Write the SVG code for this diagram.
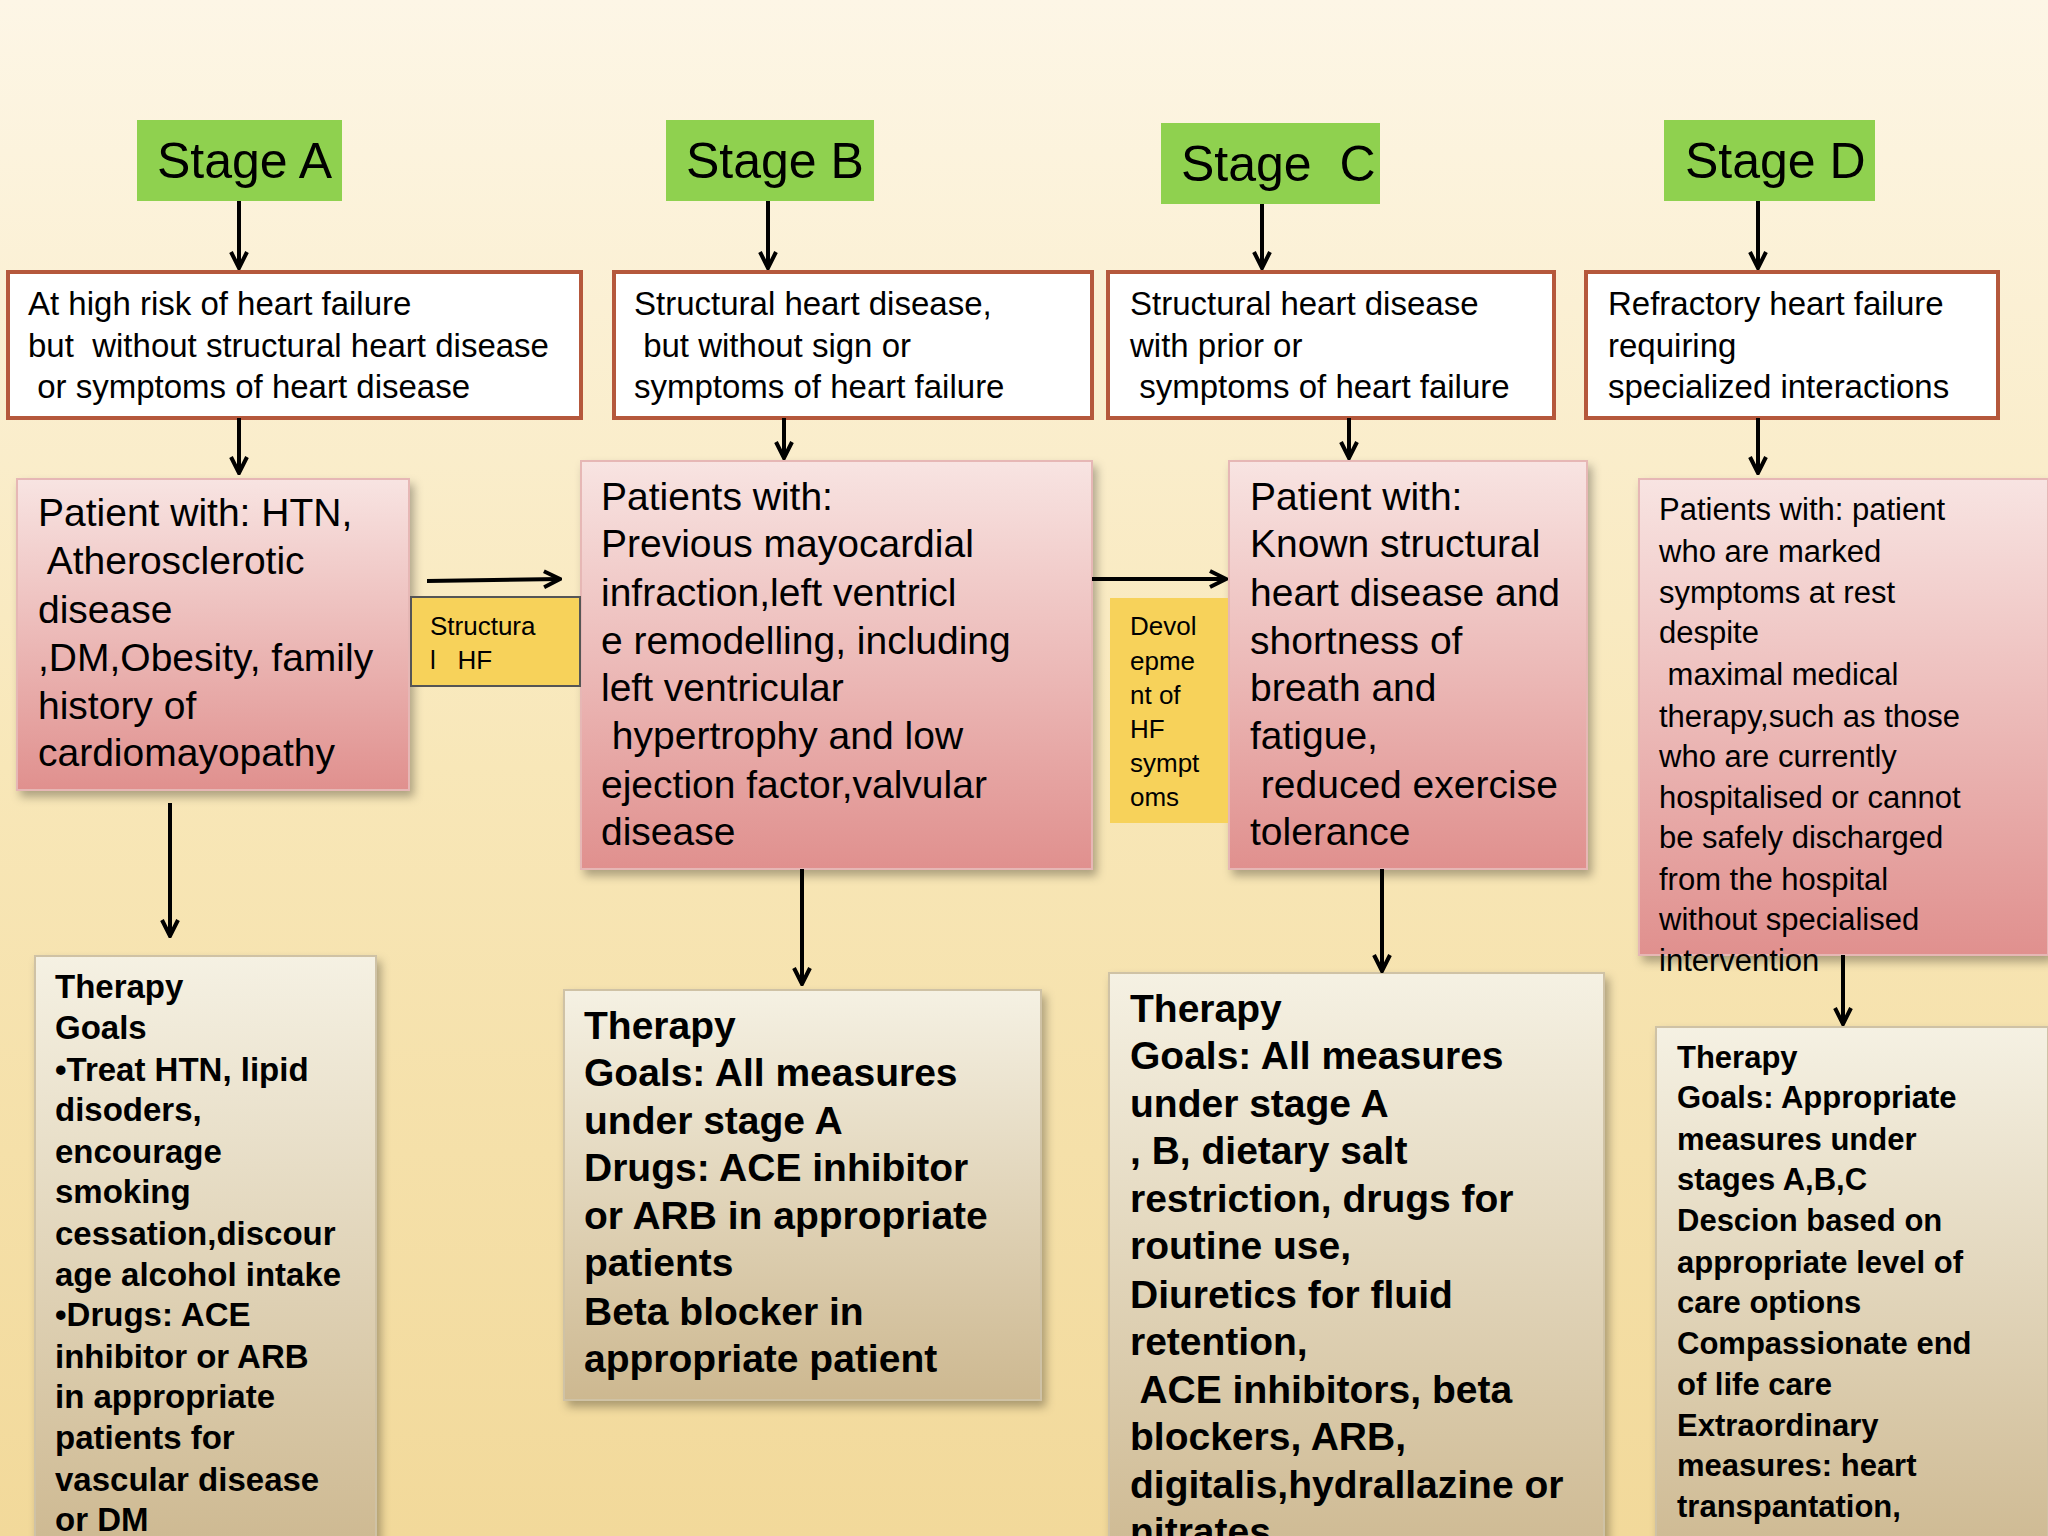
<svg xmlns="http://www.w3.org/2000/svg" width="2048" height="1536" viewBox="0 0 2048 1536">
<defs>
<linearGradient id="bg" x1="0" y1="0" x2="0" y2="1"><stop offset="0" stop-color="#fdf6e6"/><stop offset="0.5" stop-color="#f8e7b8"/><stop offset="1" stop-color="#f2d99a"/></linearGradient>
<linearGradient id="pink" x1="0" y1="0" x2="0" y2="1"><stop offset="0" stop-color="#f8e4e2"/><stop offset="1" stop-color="#e0908e"/></linearGradient>
<linearGradient id="tan" x1="0" y1="0" x2="0" y2="1"><stop offset="0" stop-color="#f5f1e3"/><stop offset="1" stop-color="#cdb890"/></linearGradient>
<filter id="sh" x="-10%" y="-10%" width="130%" height="130%"><feDropShadow dx="4" dy="6" stdDeviation="5" flood-color="#000" flood-opacity="0.3"/></filter>
<marker id="ah" viewBox="0 0 10 10" refX="9" refY="5" markerWidth="5" markerHeight="5" orient="auto"><path d="M1,1 L9,5 L1,9" fill="none" stroke="#000" stroke-width="2"/></marker>
</defs>
<style>
.st{fill:#8fd14f}
.stt{font-family:"Liberation Sans",Arial,sans-serif;font-size:50px;fill:#000}
.wb{fill:#fff;stroke:#b5583c;stroke-width:4}
.wt{font-family:"Liberation Sans",Arial,sans-serif;font-size:33px;fill:#000}
.pb{fill:url(#pink);stroke:#e6b7b5;stroke-width:2;filter:url(#sh)}
.pt{font-family:"Liberation Sans",Arial,sans-serif;font-size:39px;fill:#000}
.pd{font-family:"Liberation Sans",Arial,sans-serif;font-size:31px;fill:#000}
.yb{fill:#f7d25a;stroke:#555;stroke-width:2}
.yt{font-family:"Liberation Sans",Arial,sans-serif;font-size:26px;fill:#000}
.tb{fill:url(#tan);stroke:#cfc2a5;stroke-width:2;filter:url(#sh)}
.tt{font-family:"Liberation Sans",Arial,sans-serif;font-weight:bold;fill:#000}
.c line{stroke:#000;stroke-width:4;marker-end:url(#ah)}
</style>
<rect width="2048" height="1536" fill="url(#bg)"/>

<g id="stageA"><rect class="st" x="137" y="120" width="205" height="81"/><text class="stt" x="157" y="178">Stage A</text></g>
<g id="stageB"><rect class="st" x="666" y="120" width="208" height="81"/><text class="stt" x="686" y="178">Stage B</text></g>
<g id="stageC"><rect class="st" x="1161" y="123" width="219" height="81"/><text class="stt" x="1181" y="181" xml:space="preserve">Stage  C</text></g>
<g id="stageD"><rect class="st" x="1664" y="120" width="211" height="81"/><text class="stt" x="1685" y="178">Stage D</text></g>

<g id="defA"><rect class="wb" x="8" y="272" width="573" height="146"/><text class="wt" xml:space="preserve"><tspan x="28" y="315">At high risk of heart failure</tspan><tspan x="28" y="357">but  without structural heart disease</tspan><tspan x="28" y="398"> or symptoms of heart disease</tspan></text></g>
<g id="defB"><rect class="wb" x="614" y="272" width="478" height="146"/><text class="wt" xml:space="preserve"><tspan x="634" y="315">Structural heart disease,</tspan><tspan x="634" y="357"> but without sign or</tspan><tspan x="634" y="398">symptoms of heart failure</tspan></text></g>
<g id="defC"><rect class="wb" x="1108" y="272" width="446" height="146"/><text class="wt" xml:space="preserve"><tspan x="1130" y="315">Structural heart disease</tspan><tspan x="1130" y="357">with prior or</tspan><tspan x="1130" y="398"> symptoms of heart failure</tspan></text></g>
<g id="defD"><rect class="wb" x="1586" y="272" width="412" height="146"/><text class="wt" xml:space="preserve"><tspan x="1608" y="315">Refractory heart failure</tspan><tspan x="1608" y="357">requiring</tspan><tspan x="1608" y="398">specialized interactions</tspan></text></g>

<g id="patA"><rect class="pb" x="17" y="479" width="392" height="311"/><text class="pt" xml:space="preserve"><tspan x="38" y="526">Patient with: HTN,</tspan><tspan x="38" y="574"> Atherosclerotic</tspan><tspan x="38" y="623">disease</tspan><tspan x="38" y="671">,DM,Obesity, family</tspan><tspan x="38" y="719">history of</tspan><tspan x="38" y="766">cardiomayopathy</tspan></text></g>
<g id="patB"><rect class="pb" x="581" y="461" width="511" height="408"/><text class="pt" xml:space="preserve"><tspan x="601" y="510">Patients with:</tspan><tspan x="601" y="557">Previous mayocardial</tspan><tspan x="601" y="606">infraction,left ventricl</tspan><tspan x="601" y="654">e remodelling, including</tspan><tspan x="601" y="701">left ventricular</tspan><tspan x="601" y="749"> hypertrophy and low</tspan><tspan x="601" y="798">ejection factor,valvular</tspan><tspan x="601" y="845">disease</tspan></text></g>
<g id="patC"><rect class="pb" x="1229" y="461" width="358" height="408"/><text class="pt" xml:space="preserve"><tspan x="1250" y="510">Patient with:</tspan><tspan x="1250" y="557">Known structural</tspan><tspan x="1250" y="606">heart disease and</tspan><tspan x="1250" y="654">shortness of</tspan><tspan x="1250" y="701">breath and</tspan><tspan x="1250" y="749">fatigue,</tspan><tspan x="1250" y="798"> reduced exercise</tspan><tspan x="1250" y="845">tolerance</tspan></text></g>
<g id="patD"><rect class="pb" x="1639" y="479" width="409" height="476"/><text class="pd" xml:space="preserve"><tspan x="1659" y="520">Patients with: patient</tspan><tspan x="1659" y="562">who are marked</tspan><tspan x="1659" y="603">symptoms at rest</tspan><tspan x="1659" y="643">despite</tspan><tspan x="1659" y="685"> maximal medical</tspan><tspan x="1659" y="727">therapy,such as those</tspan><tspan x="1659" y="767">who are currently</tspan><tspan x="1659" y="808">hospitalised or cannot</tspan><tspan x="1659" y="848">be safely discharged</tspan><tspan x="1659" y="890">from the hospital</tspan><tspan x="1659" y="930">without specialised</tspan><tspan x="1659" y="971">intervention</tspan></text></g>

<g id="yelA"><rect class="yb" x="411" y="597" width="169" height="89"/><text class="yt" xml:space="preserve"><tspan x="430" y="635">Structura</tspan><tspan x="430" y="669">l   HF</tspan></text></g>
<g id="yelB"><rect x="1110" y="598" width="118" height="225" fill="#f7d25a"/><text class="yt"><tspan x="1130" y="635">Devol</tspan><tspan x="1130" y="670">epme</tspan><tspan x="1130" y="704">nt of</tspan><tspan x="1130" y="738">HF</tspan><tspan x="1130" y="772">sympt</tspan><tspan x="1130" y="806">oms</tspan></text></g>

<g id="thA"><rect class="tb" x="35" y="956" width="341" height="600"/><text class="tt" font-size="33"><tspan x="55" y="998">Therapy</tspan><tspan x="55" y="1039">Goals</tspan><tspan x="55" y="1081">•Treat HTN, lipid</tspan><tspan x="55" y="1121">disoders,</tspan><tspan x="55" y="1163">encourage</tspan><tspan x="55" y="1203">smoking</tspan><tspan x="55" y="1245">cessation,discour</tspan><tspan x="55" y="1286">age alcohol intake</tspan><tspan x="55" y="1326">•Drugs: ACE</tspan><tspan x="55" y="1368">inhibitor or ARB</tspan><tspan x="55" y="1408">in appropriate</tspan><tspan x="55" y="1449">patients for</tspan><tspan x="55" y="1491">vascular disease</tspan><tspan x="55" y="1531">or DM</tspan></text></g>
<g id="thB"><rect class="tb" x="564" y="990" width="477" height="410"/><text class="tt" font-size="39"><tspan x="584" y="1039">Therapy</tspan><tspan x="584" y="1086">Goals: All measures</tspan><tspan x="584" y="1134">under stage A</tspan><tspan x="584" y="1181">Drugs: ACE inhibitor</tspan><tspan x="584" y="1229">or ARB in appropriate</tspan><tspan x="584" y="1276">patients</tspan><tspan x="584" y="1325">Beta blocker in</tspan><tspan x="584" y="1372">appropriate patient</tspan></text></g>
<g id="thC"><rect class="tb" x="1109" y="973" width="495" height="600"/><text class="tt" font-size="39" xml:space="preserve"><tspan x="1130" y="1022">Therapy</tspan><tspan x="1130" y="1069">Goals: All measures</tspan><tspan x="1130" y="1117">under stage A</tspan><tspan x="1130" y="1164">, B, dietary salt</tspan><tspan x="1130" y="1212">restriction, drugs for</tspan><tspan x="1130" y="1259">routine use,</tspan><tspan x="1130" y="1308">Diuretics for fluid</tspan><tspan x="1130" y="1355">retention,</tspan><tspan x="1130" y="1403"> ACE inhibitors, beta</tspan><tspan x="1130" y="1450">blockers, ARB,</tspan><tspan x="1130" y="1498">digitalis,hydrallazine or</tspan><tspan x="1130" y="1545">nitrates</tspan></text></g>
<g id="thD"><rect class="tb" x="1656" y="1027" width="392" height="540"/><text class="tt" font-size="31"><tspan x="1677" y="1068">Therapy</tspan><tspan x="1677" y="1108">Goals: Appropriate</tspan><tspan x="1677" y="1150">measures under</tspan><tspan x="1677" y="1190">stages A,B,C</tspan><tspan x="1677" y="1231">Descion based on</tspan><tspan x="1677" y="1273">appropriate level of</tspan><tspan x="1677" y="1313">care options</tspan><tspan x="1677" y="1354">Compassionate end</tspan><tspan x="1677" y="1395">of life care</tspan><tspan x="1677" y="1436">Extraordinary</tspan><tspan x="1677" y="1476">measures: heart</tspan><tspan x="1677" y="1517">transpantation,</tspan></text></g>

<g id="connectors" class="c">
<line x1="239" y1="201" x2="239" y2="268"/><line x1="768" y1="201" x2="768" y2="268"/><line x1="1262" y1="204" x2="1262" y2="268"/><line x1="1758" y1="201" x2="1758" y2="268"/>
<line x1="239" y1="418" x2="239" y2="473"/><line x1="784" y1="418" x2="784" y2="458"/><line x1="1349" y1="418" x2="1349" y2="458"/><line x1="1758" y1="418" x2="1758" y2="473"/>
<line x1="427" y1="581" x2="560" y2="579"/><line x1="1092" y1="579" x2="1226" y2="579"/>
<line x1="170" y1="803" x2="170" y2="936"/><line x1="802" y1="869" x2="802" y2="984"/><line x1="1382" y1="869" x2="1382" y2="971"/><line x1="1843" y1="955" x2="1843" y2="1024"/>
</g>
</svg>
